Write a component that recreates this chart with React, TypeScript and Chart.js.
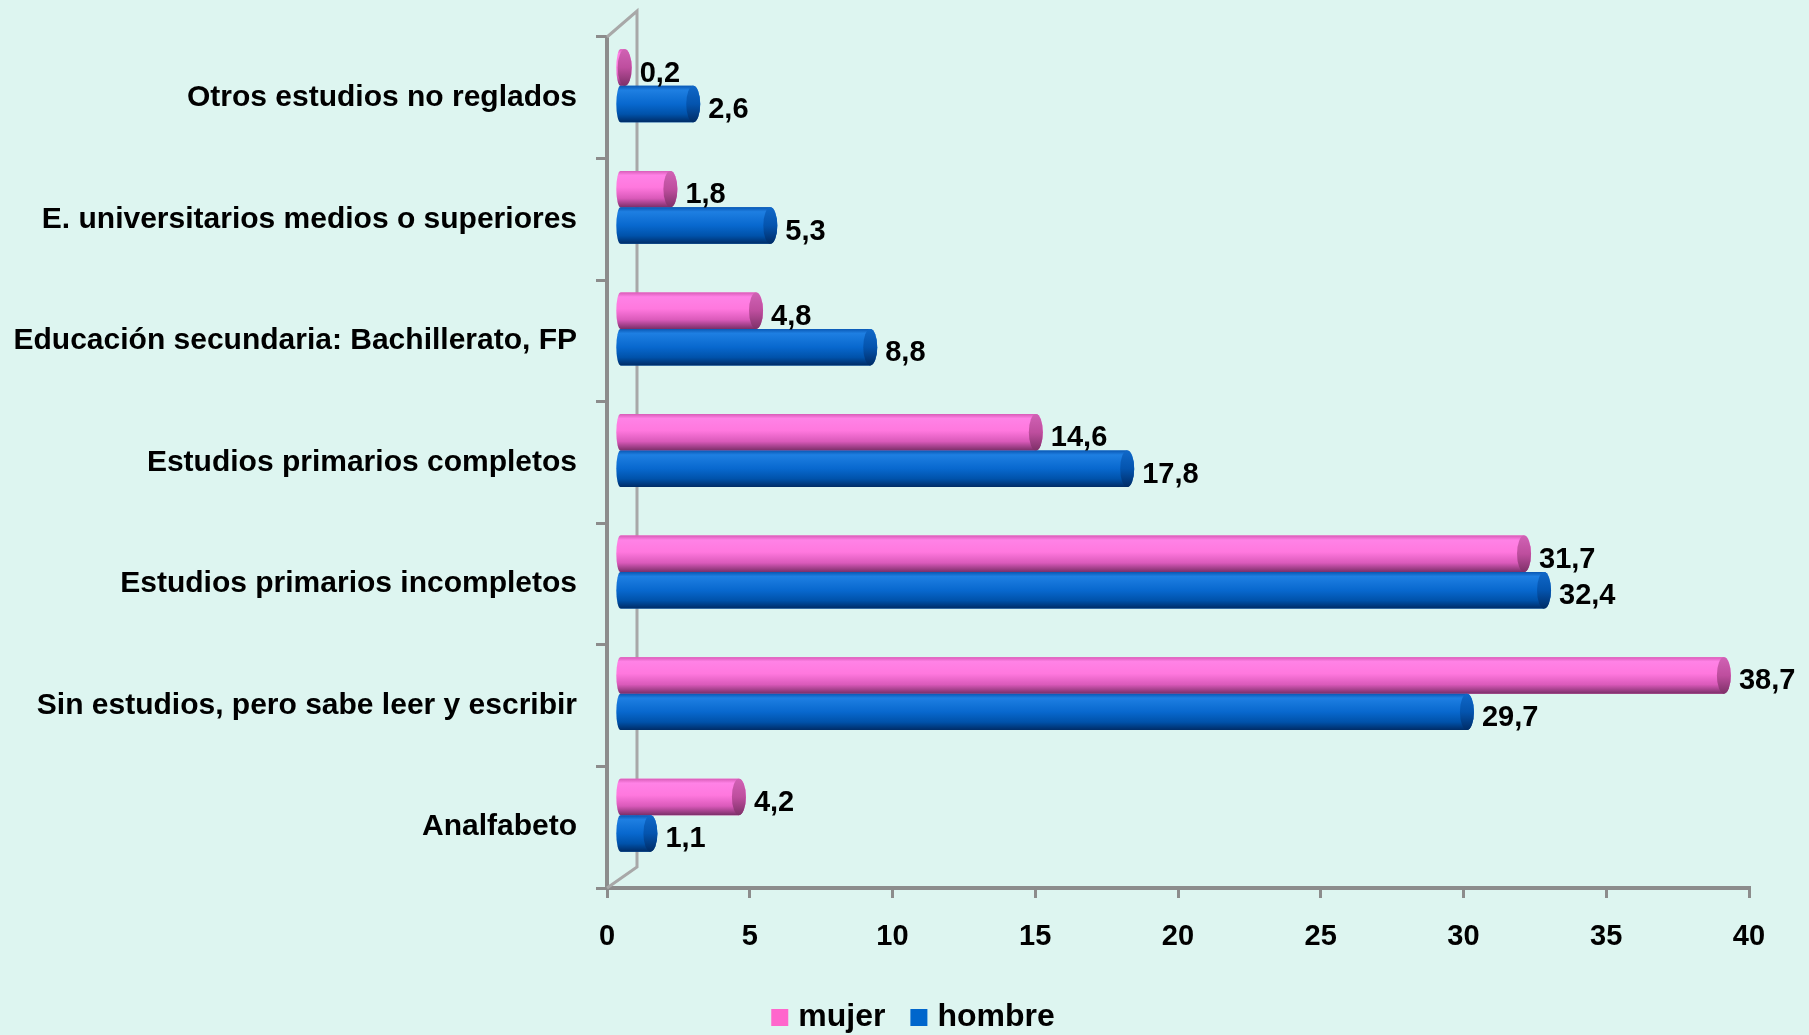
import React, { useEffect, useRef } from 'react';
import { Chart, registerables } from 'chart.js';

Chart.register(...registerables);

const categories = [
  'Otros estudios no reglados',
  'E. universitarios medios o superiores',
  'Educación secundaria: Bachillerato, FP',
  'Estudios primarios completos',
  'Estudios primarios incompletos',
  'Sin estudios, pero sabe leer y escribir',
  'Analfabeto',
];
const mujer = [0.2, 1.8, 4.8, 14.6, 31.7, 38.7, 4.2];
const hombre = [2.6, 5.3, 8.8, 17.8, 32.4, 29.7, 1.1];
const seriesNames = ['mujer', 'hombre'];
const xMin = 0;
const xMax = 40;
const xStep = 5;

const BG = '#DDF5F0';
const AXIS = '#8C8C8C';
const FONT = "'Liberation Sans', Arial, sans-serif";
const legendColors = ['#FF66CC', '#0066CC'];
const cylStops: [number, string][][] = [
  [
    [0, '#D85CB8'],
    [0.12, '#FF82E6'],
    [0.45, '#FF78DE'],
    [0.75, '#DA5ABA'],
    [1, '#7A2E68'],
  ],
  [
    [0, '#0A58B4'],
    [0.12, '#1E7FE2'],
    [0.5, '#0868CE'],
    [0.78, '#0052AA'],
    [1, '#002C66'],
  ],
];
const capStops: [number, string][][] = [
  [
    [0, '#D062B4'],
    [0.5, '#BE4E9E'],
    [1, '#7E3068'],
  ],
  [
    [0, '#1068C8'],
    [0.5, '#0454AE'],
    [1, '#002C66'],
  ],
];
const DX = 12;
const DY = -12;

function drawCylinder(
  ctx: CanvasRenderingContext2D,
  x0: number,
  x1: number,
  yc: number,
  h: number,
  stops: [number, string][],
  cap: [number, string][]
) {
  const rx = 7;
  const ry = h / 2;
  const y0 = yc - ry;
  const g = ctx.createLinearGradient(0, y0, 0, y0 + h);
  stops.forEach(([o, c]) => g.addColorStop(o, c));
  ctx.beginPath();
  ctx.ellipse(x0, yc, rx * 0.6, ry, 0, Math.PI / 2, Math.PI * 1.5);
  ctx.lineTo(x1, y0);
  ctx.ellipse(x1, yc, rx, ry, 0, -Math.PI / 2, Math.PI / 2);
  ctx.closePath();
  ctx.fillStyle = g;
  ctx.fill();
  const gc = ctx.createLinearGradient(0, y0, 0, y0 + h);
  cap.forEach(([o, c]) => gc.addColorStop(o, c));
  ctx.beginPath();
  ctx.ellipse(x1, yc, rx, ry, 0, 0, Math.PI * 2);
  ctx.fillStyle = gc;
  ctx.fill();
}

const decorPlugin = {
  id: 'decor3d',
  beforeDatasetsDraw(chart: any) {
    const { ctx, chartArea } = chart;
    const { left, top, bottom } = chartArea;
    ctx.save();
    ctx.strokeStyle = '#A8A8A8';
    ctx.lineWidth = 3;
    ctx.beginPath();
    ctx.moveTo(left, top);
    ctx.lineTo(left + 30, top - 26);
    ctx.lineTo(left + 30, bottom - 21);
    ctx.lineTo(left, bottom);
    ctx.stroke();
    ctx.restore();
    ctx.save();
    ctx.translate(DX, DY);
  },
  afterDatasetsDraw(chart: any) {
    const { ctx } = chart;
    chart.data.datasets.forEach((_: any, d: number) => {
      const meta = chart.getDatasetMeta(d);
      meta.data.forEach((el: any) => {
        const p = el.getProps(['x', 'y', 'base', 'height'], true);
        drawCylinder(ctx, p.base, p.x, p.y, p.height, cylStops[d], capStops[d]);
      });
    });
    ctx.restore();
    // value labels
    ctx.save();
    ctx.font = `bold 29px ${FONT}`;
    ctx.fillStyle = '#000';
    ctx.textAlign = 'left';
    ctx.textBaseline = 'middle';
    chart.data.datasets.forEach((ds: any, d: number) => {
      const meta = chart.getDatasetMeta(d);
      meta.data.forEach((el: any, i: number) => {
        const p = el.getProps(['x', 'y'], true);
        const txt = Number(ds.data[i]).toFixed(1).replace('.', ',');
        ctx.fillText(txt, p.x + DX + 15, p.y + DY + 6);
      });
    });
    ctx.restore();
  },
  afterDraw(chart: any) {
    const { ctx } = chart;
    ctx.save();
    ctx.font = `bold 32px ${FONT}`;
    ctx.textBaseline = 'alphabetic';
    ctx.textAlign = 'left';
    const box = 17;
    const gap = 10;
    const itemGap = 25;
    const ds = chart.data.datasets;
    let total = 0;
    ds.forEach((d: any, i: number) => {
      total += box + gap + ctx.measureText(d.label).width + (i < ds.length - 1 ? itemGap : 0);
    });
    let x = 913 - total / 2;
    const base = 1026;
    ds.forEach((d: any, i: number) => {
      ctx.fillStyle = legendColors[i];
      ctx.fillRect(x, base - box, box, box);
      x += box + gap;
      ctx.fillStyle = '#000';
      ctx.fillText(d.label, x, base);
      x += ctx.measureText(d.label).width + itemGap;
    });
    ctx.restore();
  },
};

export default function App() {
  const ref = useRef<HTMLCanvasElement | null>(null);
  useEffect(() => {
    document.body.style.margin = '0';
    document.body.style.background = BG;
    const canvas = ref.current!;
    const chart = new Chart(canvas, {
      type: 'bar',
      data: {
        labels: categories,
        datasets: [
          { label: seriesNames[0], data: mujer, backgroundColor: legendColors[0], clip: false as any },
          { label: seriesNames[1], data: hombre, backgroundColor: legendColors[1], clip: false as any },
        ],
      },
      options: {
        indexAxis: 'y',
        responsive: false,
        animation: false,
        devicePixelRatio: 1,
        categoryPercentage: 0.6,
        barPercentage: 1.0,
        layout: { padding: { left: 0, right: 60, top: 35, bottom: 87 } },
        plugins: {
          legend: { display: false },
          tooltip: { enabled: false },
        },
        scales: {
          y: {
            type: 'category',
            afterFit: (s: any) => {
              s.width = 607;
            },
            grid: {
              drawOnChartArea: false,
              drawTicks: true,
              tickLength: 11,
              color: AXIS,
              lineWidth: 3,
              offset: true,
            },
            border: { display: true, color: AXIS, width: 4 },
            ticks: {
              color: '#000',
              font: { family: FONT, size: 30, weight: 'bold' },
              padding: 19,
            },
          },
          x: {
            min: xMin,
            max: xMax,
            afterFit: (s: any) => {
              s.height = 60;
            },
            grid: {
              drawOnChartArea: false,
              drawTicks: true,
              tickLength: 10,
              color: AXIS,
              lineWidth: 3,
            },
            border: { display: true, color: AXIS, width: 4 },
            ticks: {
              stepSize: xStep,
              color: '#000',
              font: { family: FONT, size: 29, weight: 'bold' },
              padding: 22,
            },
          },
        },
      },
      plugins: [decorPlugin],
    });
    return () => chart.destroy();
  }, []);
  return (
    <div style={{ width: 1809, height: 1035, background: BG }}>
      <canvas ref={ref} width={1809} height={1035} style={{ display: 'block' }} />
    </div>
  );
}
